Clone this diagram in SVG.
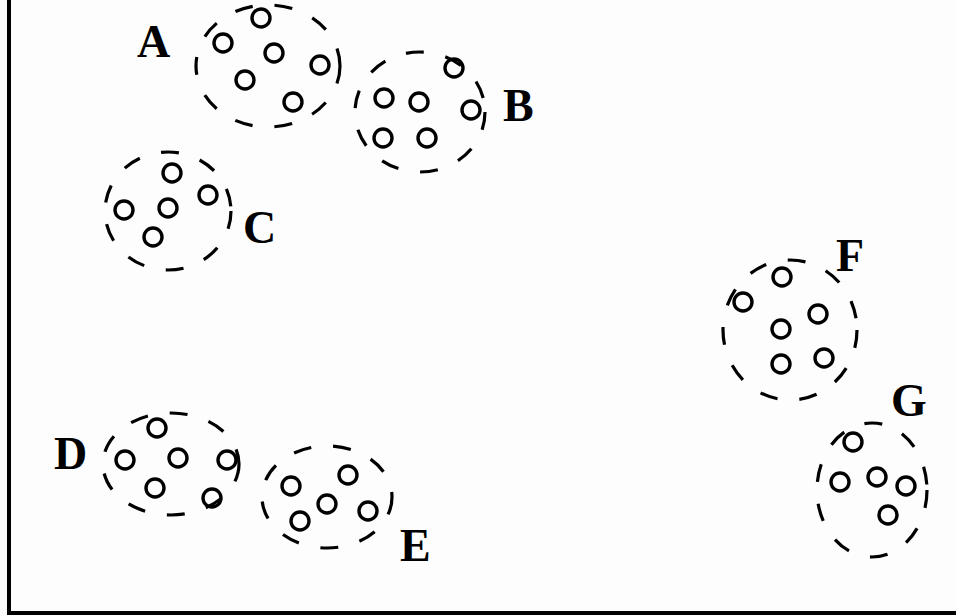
<svg xmlns="http://www.w3.org/2000/svg" width="956" height="616" viewBox="0 0 956 616">
<style>
.bg{fill:#fdfdfd}
.frame{stroke:#000;stroke-width:4;fill:none}
.ring{fill:none;stroke:#000;stroke-width:3.2;stroke-dasharray:18 22}
.dot{fill:none;stroke:#000;stroke-width:3.4}
.lbl{font-family:"Liberation Serif","Times New Roman",serif;font-weight:bold;font-size:46px;fill:#000}
</style>
<rect class="bg" x="0" y="0" width="956" height="616"/>
<g id="frame">
<polyline class="frame" points="9,0 9,613 956,613"/>
</g>
<g id="A">
<ellipse class="ring" cx="268" cy="66" rx="72" ry="61"/>
<circle class="dot" cx="223" cy="43" r="9"/>
<circle class="dot" cx="261" cy="18" r="9"/>
<circle class="dot" cx="274" cy="53" r="9"/>
<circle class="dot" cx="320" cy="65" r="9"/>
<circle class="dot" cx="245" cy="80" r="9"/>
<circle class="dot" cx="293" cy="102" r="9"/>
<text class="lbl" x="137" y="57">A</text>
</g>
<g id="B">
<ellipse class="ring" cx="420" cy="112" rx="65" ry="60"/>
<circle class="dot" cx="454" cy="68" r="9"/>
<circle class="dot" cx="384" cy="98" r="9"/>
<circle class="dot" cx="419" cy="102" r="9"/>
<circle class="dot" cx="471" cy="110" r="9"/>
<circle class="dot" cx="383" cy="138" r="9"/>
<circle class="dot" cx="427" cy="138" r="9"/>
<text class="lbl" x="503" y="121">B</text>
</g>
<g id="C">
<ellipse class="ring" cx="168" cy="211" rx="63" ry="59"/>
<circle class="dot" cx="172" cy="173" r="9"/>
<circle class="dot" cx="208" cy="195" r="9"/>
<circle class="dot" cx="124" cy="210" r="9"/>
<circle class="dot" cx="168" cy="208" r="9"/>
<circle class="dot" cx="153" cy="237" r="9"/>
<text class="lbl" x="243" y="243">C</text>
</g>
<g id="D">
<ellipse class="ring" cx="171" cy="464" rx="68" ry="51"/>
<circle class="dot" cx="157" cy="428" r="9"/>
<circle class="dot" cx="125" cy="460" r="9"/>
<circle class="dot" cx="178" cy="458" r="9"/>
<circle class="dot" cx="227" cy="460" r="9"/>
<circle class="dot" cx="155" cy="488" r="9"/>
<circle class="dot" cx="212" cy="498" r="9"/>
<text class="lbl" x="54" y="469">D</text>
</g>
<g id="E">
<ellipse class="ring" cx="327" cy="497" rx="65" ry="51"/>
<circle class="dot" cx="291" cy="486" r="9"/>
<circle class="dot" cx="348" cy="475" r="9"/>
<circle class="dot" cx="327" cy="504" r="9"/>
<circle class="dot" cx="300" cy="521" r="9"/>
<circle class="dot" cx="368" cy="511" r="9"/>
<text class="lbl" x="400" y="561">E</text>
</g>
<g id="F">
<ellipse class="ring" cx="790" cy="330" rx="67" ry="70"/>
<circle class="dot" cx="782" cy="277" r="9"/>
<circle class="dot" cx="743" cy="302" r="9"/>
<circle class="dot" cx="818" cy="314" r="9"/>
<circle class="dot" cx="781" cy="329" r="9"/>
<circle class="dot" cx="781" cy="364" r="9"/>
<circle class="dot" cx="824" cy="358" r="9"/>
<text class="lbl" x="836" y="271">F</text>
</g>
<g id="G">
<ellipse class="ring" cx="872" cy="490" rx="55" ry="67"/>
<circle class="dot" cx="853" cy="442" r="9"/>
<circle class="dot" cx="840" cy="482" r="9"/>
<circle class="dot" cx="877" cy="477" r="9"/>
<circle class="dot" cx="906" cy="486" r="9"/>
<circle class="dot" cx="888" cy="515" r="9"/>
<text class="lbl" x="891" y="416">G</text>
</g>
</svg>
